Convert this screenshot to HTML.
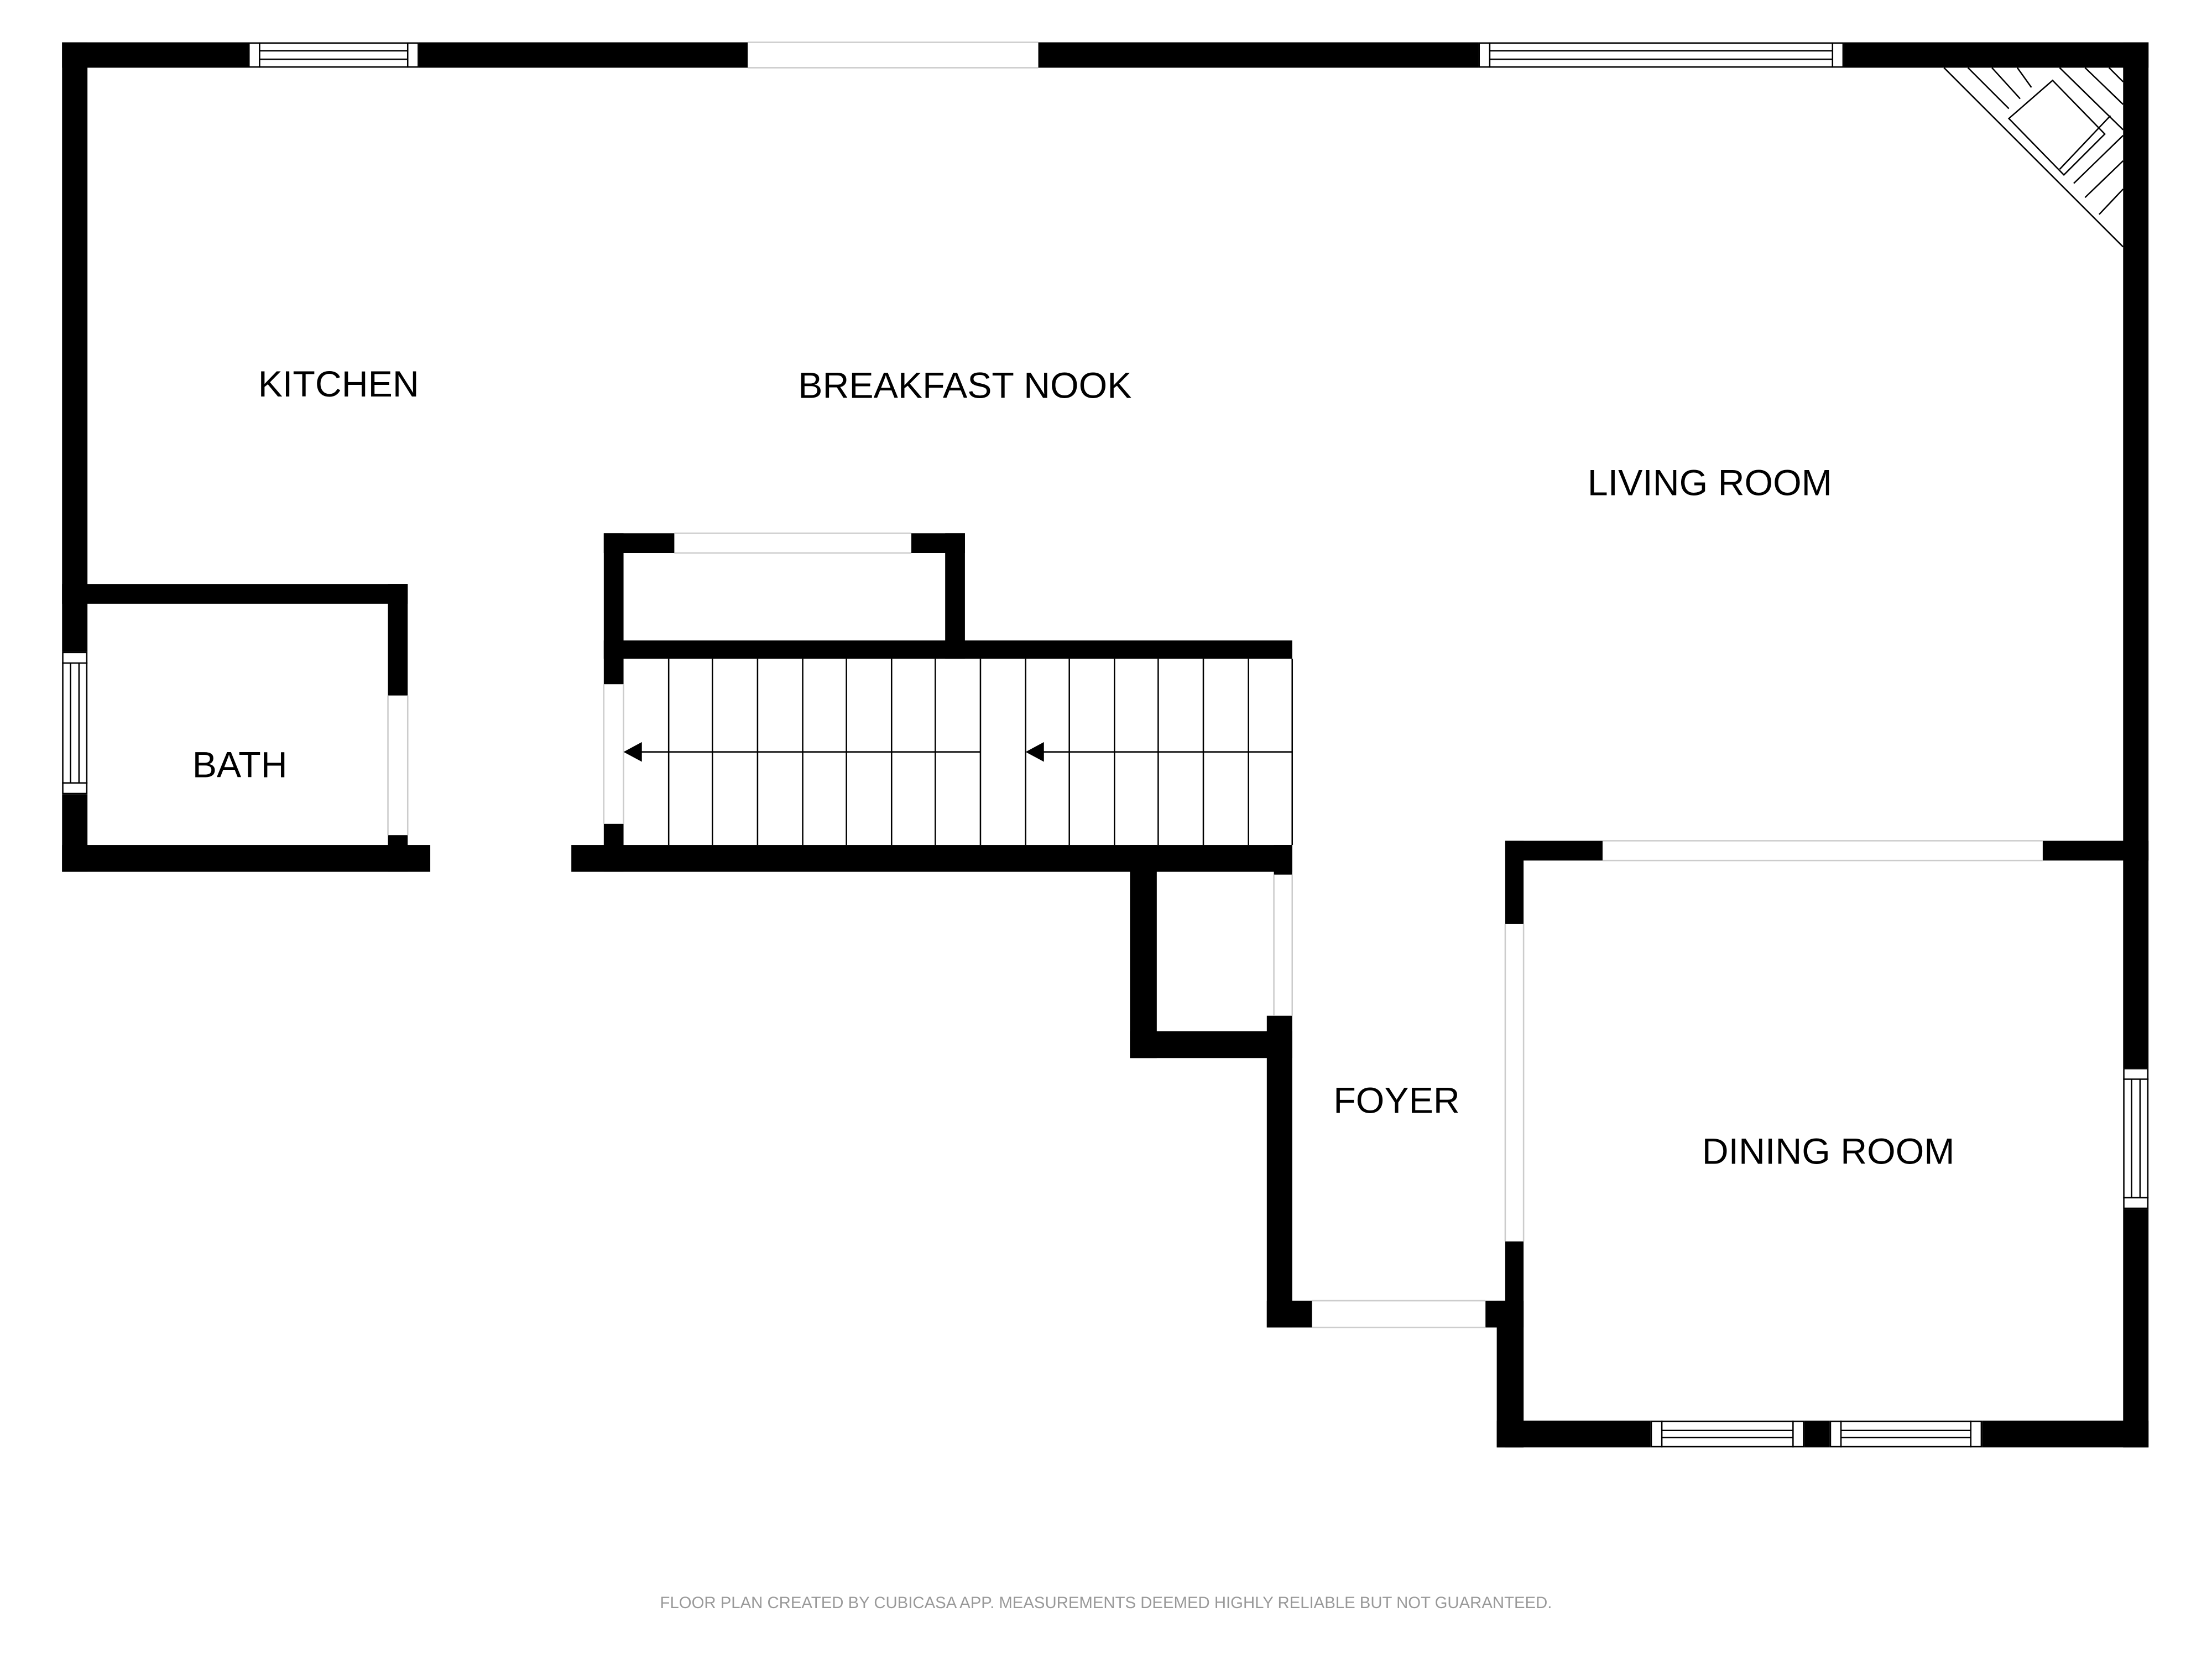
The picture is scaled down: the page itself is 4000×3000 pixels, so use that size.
<!DOCTYPE html>
<html><head><style>html,body{margin:0;padding:0;background:#fff}svg{display:block}</style></head>
<body>
<svg width="4000" height="3000" viewBox="0 0 1568 1176" xmlns="http://www.w3.org/2000/svg">
<rect width="1568" height="1176" fill="#fff"/>
<g fill="#000">
<!-- top wall -->
<rect x="44" y="30" width="132" height="18"/>
<rect x="297" y="30" width="233" height="18"/>
<rect x="736" y="30" width="312" height="18"/>
<rect x="1307" y="30" width="216" height="18"/>
<!-- left wall -->
<rect x="44" y="30" width="18" height="432"/>
<rect x="44" y="563" width="18" height="55"/>
<!-- right wall -->
<rect x="1505" y="30" width="18" height="727"/>
<rect x="1505" y="857" width="18" height="169"/>
<!-- bath -->
<rect x="44" y="414" width="245" height="14"/>
<rect x="275" y="414" width="14" height="79"/>
<rect x="275" y="592" width="14" height="26"/>
<rect x="44" y="599" width="261" height="19"/>
<!-- stair block -->
<rect x="405" y="599" width="511" height="19"/>
<rect x="428" y="378" width="14" height="107"/>
<rect x="428" y="584" width="14" height="34"/>
<rect x="428" y="378" width="50" height="14"/>
<rect x="646" y="378" width="38" height="14"/>
<rect x="670" y="378" width="14" height="89"/>
<rect x="428" y="454" width="488" height="13"/>
<!-- closet -->
<rect x="801" y="599" width="19" height="151"/>
<rect x="801" y="731" width="115" height="19"/>
<rect x="903" y="599" width="13" height="21"/>
<rect x="898" y="720" width="18" height="221"/>
<rect x="898" y="922" width="32" height="19"/>
<rect x="1053" y="922" width="27" height="19"/>
<!-- dining -->
<rect x="1067" y="596" width="13" height="59"/>
<rect x="1067" y="880" width="13" height="146"/>
<rect x="1061" y="922" width="19" height="104"/>
<rect x="1067" y="596" width="69" height="14"/>
<rect x="1448" y="596" width="75" height="14"/>
<rect x="1061" y="1007" width="109" height="19"/>
<rect x="1279" y="1007" width="18" height="19"/>
<rect x="1405" y="1007" width="118" height="19"/>
</g>
<g fill="none" stroke="#000" stroke-width="1">
<!-- windows -->
<rect x="176.5" y="30.5" width="120" height="17"/><line x1="184" y1="36" x2="289" y2="36"/><line x1="184" y1="42" x2="289" y2="42"/><line x1="184" y1="30" x2="184" y2="48"/><line x1="289" y1="30" x2="289" y2="48"/>
<rect x="1048.5" y="30.5" width="258" height="17"/><line x1="1056" y1="36" x2="1299" y2="36"/><line x1="1056" y1="42" x2="1299" y2="42"/><line x1="1056" y1="30" x2="1056" y2="48"/><line x1="1299" y1="30" x2="1299" y2="48"/>
<rect x="44.5" y="462.5" width="17" height="100"/><line x1="50" y1="470" x2="50" y2="555"/><line x1="56" y1="470" x2="56" y2="555"/><line x1="44" y1="470" x2="62" y2="470"/><line x1="44" y1="555" x2="62" y2="555"/>
<rect x="1505.5" y="757.5" width="17" height="99"/><line x1="1511" y1="765" x2="1511" y2="849"/><line x1="1517" y1="765" x2="1517" y2="849"/><line x1="1505" y1="765" x2="1523" y2="765"/><line x1="1505" y1="849" x2="1523" y2="849"/>
<rect x="1170.5" y="1007.5" width="108" height="18"/><line x1="1178" y1="1014" x2="1271" y2="1014"/><line x1="1178" y1="1019" x2="1271" y2="1019"/><line x1="1178" y1="1007" x2="1178" y2="1026"/><line x1="1271" y1="1007" x2="1271" y2="1026"/>
<rect x="1297.5" y="1007.5" width="107" height="18"/><line x1="1305" y1="1014" x2="1397" y2="1014"/><line x1="1305" y1="1019" x2="1397" y2="1019"/><line x1="1305" y1="1007" x2="1305" y2="1026"/><line x1="1397" y1="1007" x2="1397" y2="1026"/>
</g>
<g fill="none" stroke="#ccc" stroke-width="1">
<line x1="530" y1="30" x2="736" y2="30"/><line x1="530" y1="48" x2="736" y2="48"/>
<line x1="478" y1="378" x2="646" y2="378"/><line x1="478" y1="392" x2="646" y2="392"/>
<line x1="275" y1="493" x2="275" y2="592"/><line x1="289" y1="493" x2="289" y2="592"/>
<line x1="428" y1="485" x2="428" y2="584"/><line x1="442" y1="485" x2="442" y2="584"/>
<line x1="903" y1="620" x2="903" y2="720"/><line x1="916" y1="620" x2="916" y2="720"/>
<line x1="930" y1="922" x2="1053" y2="922"/><line x1="930" y1="941" x2="1053" y2="941"/>
<line x1="1067" y1="655" x2="1067" y2="880"/><line x1="1080" y1="655" x2="1080" y2="880"/>
<line x1="1136" y1="596" x2="1448" y2="596"/><line x1="1136" y1="610" x2="1448" y2="610"/>
</g>
<!-- stairs -->
<g stroke="#000" stroke-width="1">
<line x1="474" y1="467" x2="474" y2="599"/><line x1="505" y1="467" x2="505" y2="599"/><line x1="537" y1="467" x2="537" y2="599"/><line x1="569" y1="467" x2="569" y2="599"/><line x1="600" y1="467" x2="600" y2="599"/><line x1="632" y1="467" x2="632" y2="599"/><line x1="663" y1="467" x2="663" y2="599"/><line x1="695" y1="467" x2="695" y2="599"/><line x1="727" y1="467" x2="727" y2="599"/><line x1="758" y1="467" x2="758" y2="599"/><line x1="790" y1="467" x2="790" y2="599"/><line x1="821" y1="467" x2="821" y2="599"/><line x1="853" y1="467" x2="853" y2="599"/><line x1="885" y1="467" x2="885" y2="599"/><line x1="916" y1="467" x2="916" y2="599"/>
<line x1="450" y1="533" x2="695" y2="533"/><line x1="735" y1="533" x2="916" y2="533"/>
</g>
<polygon points="442,533 455,526 455,540" fill="#000"/>
<polygon points="727,533 740,526 740,540" fill="#000"/>
<!-- fireplace -->
<g fill="none" stroke="#000" stroke-width="1">
<line x1="1378" y1="48" x2="1505" y2="175"/>
<polygon points="1424,84 1455,57 1492,95 1463,124"/>
<line x1="1395" y1="48" x2="1424" y2="77"/><line x1="1412" y1="48" x2="1432" y2="70"/><line x1="1430" y1="48" x2="1440" y2="62"/>
<line x1="1460" y1="48" x2="1505" y2="92"/><line x1="1478" y1="48" x2="1505" y2="74"/><line x1="1495" y1="48" x2="1505" y2="58"/>
<line x1="1470" y1="130" x2="1505" y2="96"/><line x1="1478" y1="140" x2="1505" y2="114"/><line x1="1488" y1="152" x2="1505" y2="134"/><line x1="1460" y1="120" x2="1496" y2="82"/>
</g>
<g font-family="'Liberation Sans',sans-serif" font-size="26" fill="#000" text-anchor="middle">
<text x="240" y="281">KITCHEN</text>
<text x="684" y="282">BREAKFAST NOOK</text>
<text x="1212" y="351">LIVING ROOM</text>
<text x="170" y="551">BATH</text>
<text x="990" y="789">FOYER</text>
<text x="1296" y="825">DINING ROOM</text>
</g>
<text x="784" y="1140" font-family="'Liberation Sans',sans-serif" font-size="11.5" fill="#999" text-anchor="middle">FLOOR PLAN CREATED BY CUBICASA APP. MEASUREMENTS DEEMED HIGHLY RELIABLE BUT NOT GUARANTEED.</text>
</svg>
</body></html>
